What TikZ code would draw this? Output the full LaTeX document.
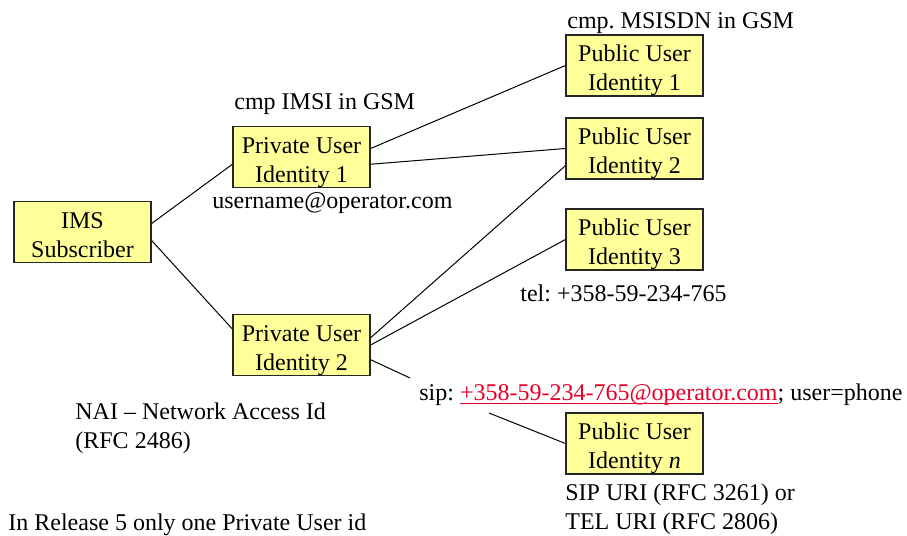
\documentclass[tikz,border=0pt]{standalone}
\usepackage{fontspec}
\setmainfont{Liberation Serif}
\usepackage{xcolor}
\usepackage{tikz}
\usetikzlibrary{positioning,calc}
\definecolor{boxyellow}{RGB}{255,255,153}
\definecolor{linkred}{RGB}{230,0,40}
\newcommand\pubid[1]{Public User\\Identity #1}
\newcommand\privid[1]{Private User\\Identity #1}
\newcommand\ulink[1]{{\color{linkred}\setbox0\hbox{#1}\rlap{\rule[-2pt]{\wd0}{0.5pt}}\box0}}
\frenchspacing

\begin{document}
\begin{tikzpicture}[x=0.5pt,y=-0.5pt,
    font=\fontsize{12}{14.5}\selectfont,
    idbox/.style={draw=black!85,line width=0.6pt,fill=boxyellow,align=center,
                  minimum width=68.5pt,minimum height=30.5pt,inner sep=0pt,
                  text height=27.8pt,text depth=2.7pt},
    note/.style={inner sep=0pt,anchor=base west,align=left},
    link/.style={line width=0.5pt}]
\useasboundingbox (0,0) rectangle (907,536);

% identity boxes
\node[idbox] (ims) at (82.5,232) {IMS\\Subscriber};
\node[idbox] (priv1) at (301.5,157) {\privid{1}};
\node[idbox] (priv2) at (301.5,345) {\privid{2}};
\node[idbox] (pub1) at (634.5,65.5) {\pubid{1}};
\node[idbox] (pub2) at (634.5,148.5) {\pubid{2}};
\node[idbox] (pub3) at (634.5,239.5) {\pubid{3}};
\node[idbox] (pubn) at (634.5,443.5) {\pubid{\textit{n}}};

% notes (base = baseline of the last line)
\node[note] (msisdn) at (567,28) {cmp. MSISDN in GSM};
\node[note] (imsi) at (234,109) {cmp IMSI in GSM};
\node[note] (nai1) at (212,208) {username@operator.com};
\node[note] (tel) at (520,301) {tel: +358-59-234-765};
\node[note] (sip) at (419,400) {sip: \ulink{+358-59-234-765@operator.com}; user=phone};
\node[note] (nai) at (75,448) {NAI -- Network Access Id\\(RFC 2486)};
\node[note] (uri) at (565,529) {SIP URI (RFC 3261) or\\TEL URI (RFC 2806)};
\node[note] (rel5) at (8,530) {In Release 5 only one Private User id};

\coordinate (sipend) at (410,378);
\coordinate (siptail) at (489,413);

% connectors
\draw[link] (ims.7.5) -- (priv1.186);
\draw[link] (ims.-7) -- (priv2.167);
\draw[link] (priv1.7.5) -- (pub1.west);
\draw[link] (priv1.-6) -- (pub2.west);
\draw[link] (priv2.6) -- (pub2.194);
\draw[link] (priv2.east) -- (pub3.west);
\draw[link] (priv2.-12) -- (sipend);
\draw[link] (siptail) -- (pubn.west);
\end{tikzpicture}
\end{document}
